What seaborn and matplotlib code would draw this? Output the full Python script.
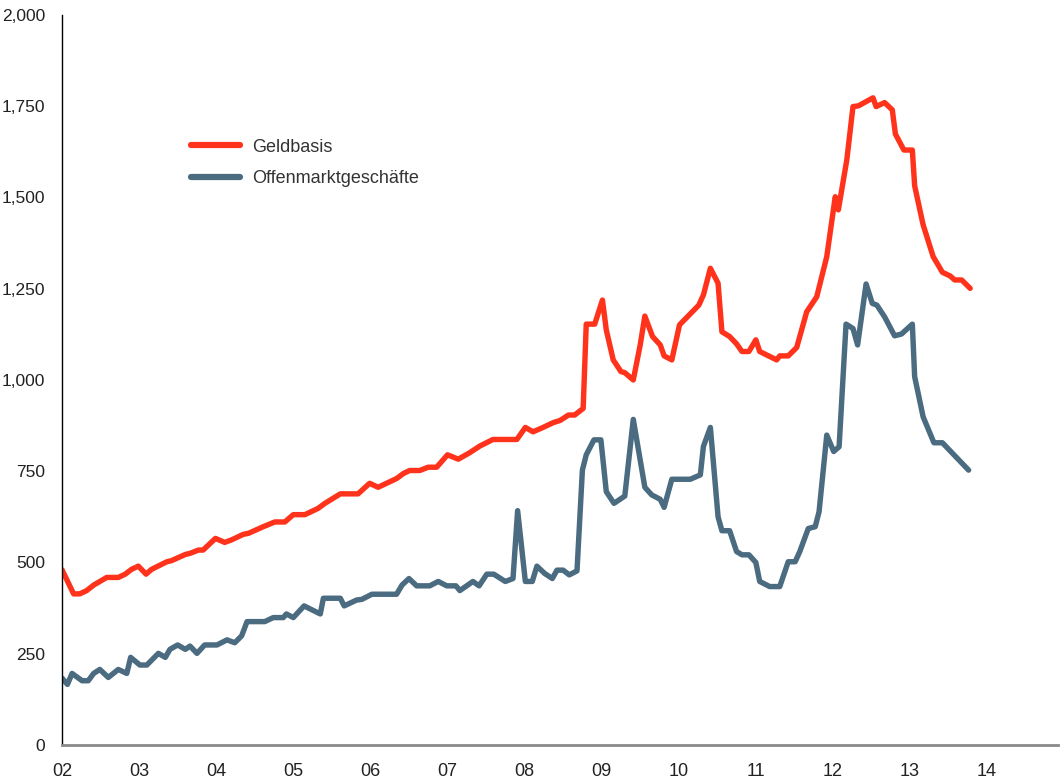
import pandas as pd
import matplotlib.pyplot as plt
import seaborn as sns

# Geldbasis (red) - years since 2000, values
years_gb = [2.00, 2.15, 2.23, 2.32, 2.41, 2.58, 2.73, 2.82, 2.90, 2.99, 3.09, 3.16, 3.36, 3.42, 3.60, 3.66,
            3.77, 3.83, 3.99, 4.11, 4.20, 4.35, 4.42, 4.61, 4.76, 4.89, 5.00, 5.15, 5.32, 5.41, 5.61, 5.84,
            5.99, 6.10, 6.25, 6.34, 6.43, 6.51, 6.64, 6.75, 6.86, 7.00, 7.14, 7.29, 7.42, 7.59, 7.90, 8.01,
            8.11, 8.24, 8.37, 8.46, 8.57, 8.65, 8.76, 8.80, 8.91, 9.01, 9.06, 9.15, 9.25, 9.30, 9.41, 9.50,
            9.56, 9.66, 9.76, 9.81, 9.91, 10.01, 10.26, 10.32, 10.41, 10.51, 10.56, 10.66, 10.75, 10.82,
            10.91, 11.00, 11.05, 11.27, 11.31, 11.42, 11.53, 11.66, 11.79, 11.92, 12.03, 12.07, 12.18,
            12.26, 12.33, 12.52, 12.56, 12.67, 12.77, 12.81, 12.92, 13.03, 13.06, 13.17, 13.30, 13.42,
            13.52, 13.58, 13.67, 13.78]
vals_gb = [480, 414, 414, 423, 438, 459, 459, 468, 481, 490, 468, 481, 502, 505, 522, 525,
           534, 534, 566, 555, 562, 577, 580, 598, 611, 611, 631, 631, 648, 662, 688, 688,
           717, 706, 721, 730, 744, 752, 752, 761, 761, 795, 783, 801, 819, 837, 837, 870,
           858, 870, 883, 889, 904, 904, 922, 1153, 1153, 1219, 1137, 1055, 1023, 1020, 1000, 1096,
           1175, 1119, 1096, 1066, 1055, 1151, 1205, 1233, 1306, 1265, 1132, 1119, 1099, 1078,
           1078, 1110, 1078, 1055, 1066, 1066, 1089, 1187, 1228, 1338, 1502, 1466, 1603,
           1749, 1751, 1773, 1749, 1760, 1740, 1674, 1630, 1630, 1532, 1425, 1338, 1295,
           1285, 1274, 1274, 1251]

# Offenmarktgeschäfte (blue-grey)
years_om = [2.00, 2.07, 2.13, 2.26, 2.34, 2.41, 2.49, 2.60, 2.73, 2.84, 2.89, 3.01, 3.10, 3.25, 3.34, 3.40,
            3.50, 3.60, 3.66, 3.75, 3.85, 4.01, 4.14, 4.24, 4.33, 4.40, 4.63, 4.74, 4.87, 4.91, 5.00, 5.14,
            5.35, 5.39, 5.61, 5.66, 5.82, 5.89, 6.02, 6.34, 6.41, 6.50, 6.60, 6.77, 6.88, 6.99, 7.11, 7.16,
            7.33, 7.41, 7.51, 7.60, 7.75, 7.85, 7.91, 8.01, 8.10, 8.16, 8.26, 8.36, 8.42, 8.50, 8.58, 8.68,
            8.75, 8.80, 8.90, 8.99, 9.06, 9.16, 9.30, 9.41, 9.56, 9.65, 9.76, 9.81, 9.91, 10.15, 10.28,
            10.32, 10.41, 10.51, 10.56, 10.66, 10.75, 10.82, 10.91, 11.00, 11.05, 11.18, 11.31, 11.42,
            11.51, 11.57, 11.68, 11.77, 11.82, 11.92, 12.01, 12.08, 12.17, 12.26, 12.32, 12.43, 12.51,
            12.57, 12.67, 12.80, 12.89, 13.03, 13.06, 13.17, 13.31, 13.42, 13.76]
vals_om = [183, 166, 196, 176, 176, 196, 207, 185, 207, 196, 240, 219, 219, 251, 240, 262,
           274, 262, 271, 251, 274, 274, 288, 280, 299, 338, 338, 349, 349, 359, 349, 381,
           359, 402, 402, 381, 397, 399, 413, 413, 438, 456, 436, 436, 448, 436, 436, 423,
           448, 436, 468, 468, 448, 456, 642, 448, 448, 490, 470, 456, 479, 479, 466, 477,
           753, 795, 836, 836, 694, 662, 682, 892, 706, 685, 673, 651, 728, 728, 740,
           818, 870, 625, 587, 587, 530, 521, 521, 500, 448, 434, 434, 502,
           502, 530, 593, 598, 639, 849, 804, 817, 1153, 1141, 1096, 1263, 1210,
           1205, 1173, 1121, 1126, 1153, 1009, 899, 828, 828, 753]

series_names = ['Geldbasis', 'Offenmarktgeschäfte']
colors = {'Geldbasis': '#ff331c', 'Offenmarktgeschäfte': '#4a6b80'}
x_ticks = list(range(2, 15))
x_labels = [f"{t:02d}" for t in x_ticks]
y_ticks = list(range(0, 2001, 250))

df = pd.concat([
    pd.DataFrame({'Jahr': years_gb, 'Wert': vals_gb, 'Serie': series_names[0]}),
    pd.DataFrame({'Jahr': years_om, 'Wert': vals_om, 'Serie': series_names[1]}),
])

sns.set_style('white')
plt.rcParams['font.family'] = ['Liberation Sans', 'DejaVu Sans']

fig = plt.figure(figsize=(10.64, 7.8), dpi=100)
ax = fig.add_axes([0.0583, 0.0449, 0.9361, 0.9359])

sns.lineplot(data=df, x='Jahr', y='Wert', hue='Serie', palette=colors, estimator=None,
             linewidth=3.9, ax=ax)

ax.set_xlim(2, 14.92)
ax.set_ylim(0, 2000)
ax.set_xticks(x_ticks)
ax.set_xticklabels(x_labels, fontsize=13)
ax.set_yticks(y_ticks)
ax.set_yticklabels([f"{v:,}" for v in y_ticks], fontsize=12.5)
ax.set_xlabel('')
ax.set_ylabel('')

for s in ['top', 'right']:
    ax.spines[s].set_visible(False)
ax.spines['left'].set_color('black')
ax.spines['left'].set_linewidth(1.0)
ax.spines['bottom'].set_color('#8a8a8a')
ax.spines['bottom'].set_linewidth(2.0)
ax.tick_params(axis='y', direction='out', length=9, width=1, color='black', pad=3, labelcolor='#222222')
ax.tick_params(axis='x', direction='out', length=8, width=1, color='black', pad=5, labelcolor='#222222')

leg = ax.legend(loc='upper left', bbox_to_anchor=(0.113, 0.853), frameon=False, fontsize=13,
                handlelength=2.7, handletextpad=0.7, labelspacing=0.8)
for text in leg.get_texts():
    text.set_color('#333333')
for line in leg.get_lines():
    line.set_linewidth(4.5)
    line.set_solid_capstyle('round')

fig.savefig('out.png', dpi=100)
